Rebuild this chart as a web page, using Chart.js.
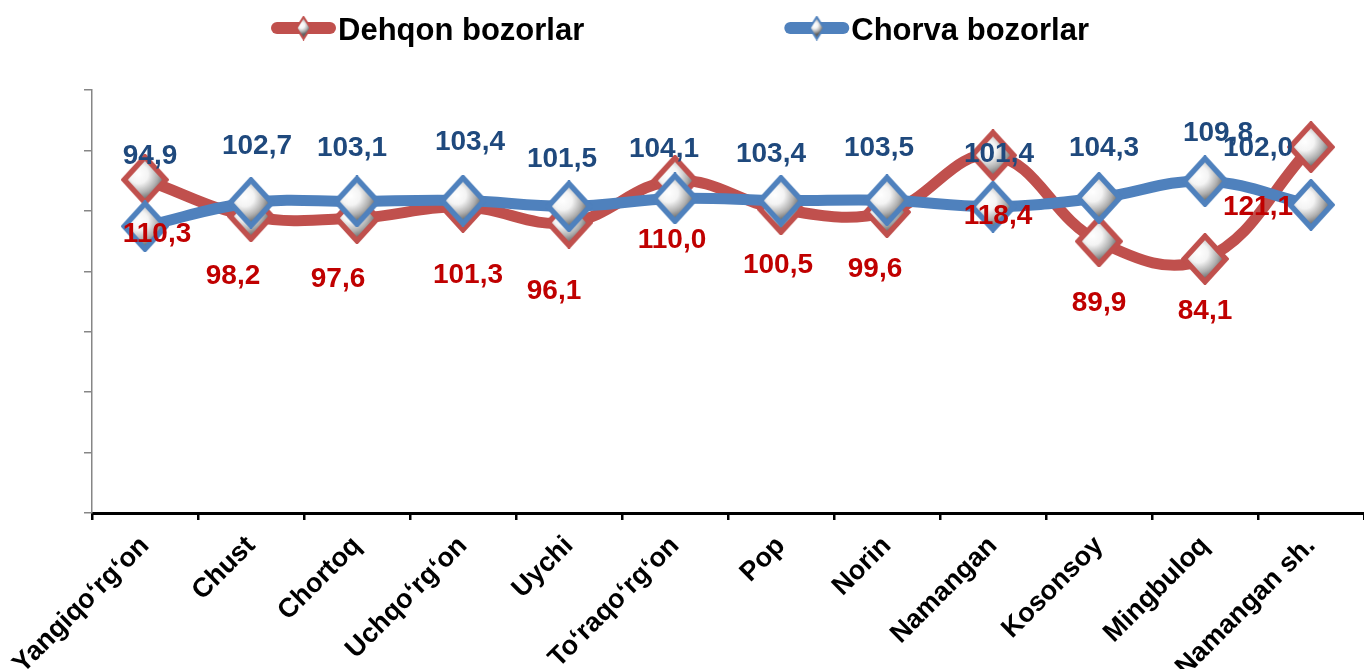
<!DOCTYPE html>
<html>
<head>
<meta charset="utf-8">
<script src="https://cdn.jsdelivr.net/npm/chart.js@4/dist/chart.umd.min.js"></script>
<style>
html,body{margin:0;padding:0;background:#ffffff;overflow:hidden;}
#wrap{width:1364px;height:669px;position:relative;}
canvas{display:block;}
</style>
</head>
<body>
<div id="wrap"><canvas id="c" width="1364" height="669"></canvas></div>
<script>
// ---------- data ----------
const categories = ["Yangiqo‘rg‘on", "Chust", "Chortoq", "Uchqo‘rg‘on", "Uychi", "To‘raqo‘rg‘on", "Pop", "Norin", "Namangan", "Kosonsoy", "Mingbuloq", "Namangan sh."];
const dehqonValues = [110.3, 98.2, 97.6, 101.3, 96.1, 110.0, 100.5, 99.6, 118.4, 89.9, 84.1, 121.1];
const chorvaValues = [94.9, 102.7, 103.1, 103.4, 101.5, 104.1, 103.4, 103.5, 101.4, 104.3, 109.8, 102.0];
const seriesNames = ["Dehqon bozorlar", "Chorva bozorlar"];
const yMin = 0, yMax = 140, yStep = 20;

// ---------- label nudges (dx, dy from the point) ----------
const dehqonLabelNudge = [[12,52],[-18,58],[-19,59],[5,66],[-15,66],[-3,57],[-3,54],[-12,55],[5,59],[0,60],[0,50],[-53,58]];
const chorvaLabelNudge = [[5,-72],[6,-59],[-5,-55],[7,-61],[-7,-49],[-11,-51],[-10,-49],[-8,-54],[6,-55],[5,-52],[13,-50],[-53,-59]];

// ---------- styles ----------
const FONT = '"Liberation Sans", Arial, Helvetica, sans-serif';
const RED_LINE = '#C0504D', BLUE_LINE = '#4F81BD';
const RED_TEXT = '#C00000', BLUE_TEXT = '#1F497D';

function makeDiamond(stroke, w, h, bw) {
  const c = document.createElement('canvas');
  c.width = w; c.height = h;
  const g = c.getContext('2d');
  const cx = w / 2, cy = h / 2;
  const hw = w / 2 - bw / 2 - 0.5, hh = h / 2 - bw / 2 - 0.5;
  g.beginPath();
  g.moveTo(cx, cy - hh); g.lineTo(cx + hw, cy); g.lineTo(cx, cy + hh); g.lineTo(cx - hw, cy); g.closePath();
  const grad = g.createRadialGradient(cx - hw * 0.3, cy - hh * 0.25, 0, cx - hw * 0.3, cy - hh * 0.25, hw * 1.3);
  grad.addColorStop(0, '#ffffff');
  grad.addColorStop(0.35, '#f4f4f4');
  grad.addColorStop(0.7, '#b0b0b0');
  grad.addColorStop(1, '#626262');
  g.fillStyle = grad; g.fill();
  g.lineJoin = 'miter'; g.lineWidth = bw; g.strokeStyle = stroke; g.stroke();
  return c;
}
const redDiamond = makeDiamond(RED_LINE, 48, 52, 5.5);
const blueDiamond = makeDiamond(BLUE_LINE, 48, 52, 5.5);
const redLegendDiamond = makeDiamond(RED_LINE, 17, 25, 2);
const blueLegendDiamond = makeDiamond(BLUE_LINE, 17, 25, 2);

function fmt(v) { return v.toFixed(1).replace('.', ','); }

const valueLabels = {
  id: 'valueLabels',
  afterDatasetsDraw(chart) {
    const ctx = chart.ctx;
    ctx.save();
    ctx.font = 'bold 28px ' + FONT;
    ctx.textAlign = 'center';
    ctx.textBaseline = 'alphabetic';
    chart.data.datasets.forEach((ds, i) => {
      const meta = chart.getDatasetMeta(i);
      ctx.fillStyle = ds.labelColor;
      meta.data.forEach((pt, j) => {
        const n = ds.labelNudge[j];
        ctx.fillText(fmt(ds.data[j]), pt.x + n[0], pt.y + n[1] + 10);
      });
    });
    ctx.restore();
  }
};

const topLegend = {
  id: 'topLegend',
  afterDraw(chart) {
    const ctx = chart.ctx;
    ctx.save();
    ctx.font = 'bold 31px ' + FONT;
    const lineLen = 65, gap = 2, spacing = 200;
    const items = chart.data.datasets.map(ds => ({ds, tw: ctx.measureText(ds.label).width}));
    const total = items.reduce((s, it) => s + lineLen + gap + it.tw, 0) + spacing * (items.length - 1);
    let x = (chart.width - total) / 2 - 2;
    const ly = 28, baseline = 40;
    items.forEach(it => {
      ctx.strokeStyle = it.ds.borderColor;
      ctx.lineWidth = 12;
      ctx.lineCap = 'round';
      ctx.beginPath(); ctx.moveTo(x + 6, ly); ctx.lineTo(x + lineLen - 6, ly); ctx.stroke();
      const d = it.ds.legendMarker;
      ctx.drawImage(d, x + lineLen / 2 - d.width / 2, ly - d.height / 2);
      ctx.fillStyle = '#000000';
      ctx.textAlign = 'left'; ctx.textBaseline = 'alphabetic';
      ctx.fillText(it.ds.label, x + lineLen + gap, baseline);
      x += lineLen + gap + it.tw + spacing;
    });
    ctx.restore();
  }
};

new Chart(document.getElementById('c'), {
  type: 'line',
  data: {
    labels: categories,
    datasets: [
      {
        label: seriesNames[0], data: dehqonValues, order: 1,
        borderColor: RED_LINE, backgroundColor: RED_LINE, borderWidth: 11,
        borderCapStyle: 'round', borderJoinStyle: 'round',
        tension: 0.4, fill: false, clip: false,
        pointStyle: redDiamond, pointRadius: 22, pointHoverRadius: 22,
        labelColor: RED_TEXT, labelNudge: dehqonLabelNudge, legendMarker: redLegendDiamond
      },
      {
        label: seriesNames[1], data: chorvaValues, order: 0,
        borderColor: BLUE_LINE, backgroundColor: BLUE_LINE, borderWidth: 11,
        borderCapStyle: 'round', borderJoinStyle: 'round',
        tension: 0.4, fill: false, clip: false,
        pointStyle: blueDiamond, pointRadius: 22, pointHoverRadius: 22,
        labelColor: BLUE_TEXT, labelNudge: chorvaLabelNudge, legendMarker: blueLegendDiamond
      }
    ]
  },
  options: {
    responsive: false,
    animation: false,
    events: [],
    layout: { autoPadding: false, padding: { top: 90, left: 0, right: 0, bottom: 0 } },
    plugins: { legend: { display: false }, tooltip: { enabled: false }, title: { display: false } },
    scales: {
      x: {
        type: 'category', offset: true,
        grid: { offset: true, drawOnChartArea: false, drawTicks: true, tickLength: 7, color: '#000000', lineWidth: 2.5 },
        border: { display: true, color: '#000000', width: 3 },
        ticks: { autoSkip: false, maxRotation: 45, minRotation: 45, color: '#000000', padding: 10,
                 font: { family: FONT, size: 27, weight: 'bold' } },
        afterFit(scale) { scale.height = 156; scale.paddingLeft = 0; scale.paddingRight = 0; }
      },
      y: {
        min: yMin, max: yMax,
        ticks: { display: false, stepSize: yStep },
        grid: { drawOnChartArea: false, drawTicks: true, tickLength: 8, color: '#868686', lineWidth: 1.5 },
        border: { display: true, color: '#868686', width: 1.5 },
        afterFit(scale) { scale.width = 92; scale.paddingTop = 0; scale.paddingBottom = 0; }
      }
    }
  },
  plugins: [valueLabels, topLegend]
});
</script>
</body>
</html>
